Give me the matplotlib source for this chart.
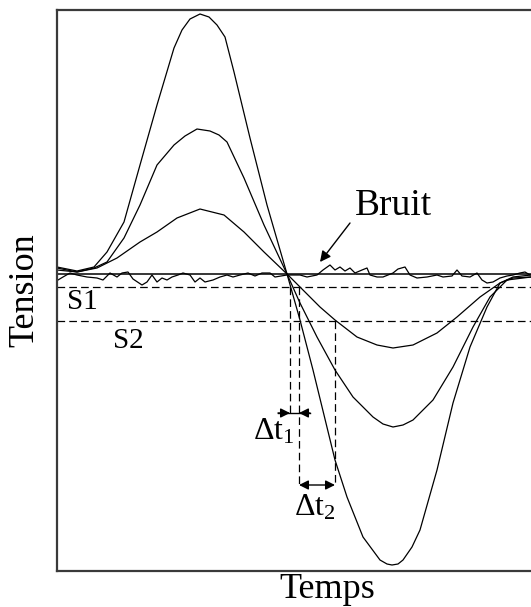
import matplotlib
matplotlib.use('Agg')
import matplotlib.pyplot as plt

plt.rcParams['font.family'] = ['Liberation Serif', 'DejaVu Serif']
plt.rcParams['mathtext.fontset'] = 'custom'
plt.rcParams['mathtext.rm'] = 'Liberation Serif'
plt.rcParams['mathtext.it'] = 'Liberation Serif'
plt.rcParams['lines.scale_dashes'] = False

# three pulses (time, tension)
t_big = [0, 20, 37, 50, 67, 83, 100, 117, 125, 133, 143, 152, 160, 168, 177, 193, 210, 230,
         243, 256, 278, 290, 306, 323, 330, 335, 341, 346, 355, 363, 380, 396, 413, 430,
         443, 456, 474]
v_big = [7, 3, 7, 22, 52, 109, 169, 226, 244, 255, 260, 257, 249, 237, 202, 136, 69, 0,
         -46, -96, -186, -223, -263, -286, -290, -291, -290, -286, -273, -256, -196, -129,
         -73, -33, -9, -4, -3]

t_mid = [0, 20, 37, 50, 67, 83, 100, 117, 128, 140, 153, 162, 170, 187, 207, 230,
         243, 260, 278, 296, 316, 326, 336, 346, 356, 376, 396, 416, 433, 450, 474]
v_mid = [6, 2, 6, 12, 36, 69, 109, 129, 138, 145, 143, 139, 132, 96, 49, 0,
         -29, -63, -96, -123, -143, -150, -153, -151, -146, -126, -93, -53, -23, -6, -3]

t_small = [0, 20, 40, 60, 83, 100, 120, 143, 167, 187, 207, 230,
           243, 263, 278, 300, 320, 336, 356, 380, 400, 423, 443, 456, 474]
v_small = [4, 2, 6, 16, 32, 42, 56, 65, 59, 42, 22, 0,
           -13, -33, -46, -63, -71, -74, -71, -59, -43, -23, -9, -3, -1]

# noise trace ("Bruit")
t_noise = [1, 6, 13, 20, 30, 40, 46, 53, 60, 65,
           71, 76, 85, 90, 95, 100, 105, 110, 115, 121,
           126, 133, 138, 143, 148, 156, 163, 170, 176, 183,
           191, 198, 205, 213, 218, 230, 243, 250, 260, 266,
           273, 278, 283, 288, 293, 298, 305, 310, 313, 320,
           326, 336, 341, 348, 353, 360, 370, 380, 386, 395,
           400, 405, 413, 420, 425, 430, 436, 443, 450, 456,
           463, 468, 473]
v_noise = [-6, -3, 1, -1, -3, -4, -6, 1, -3, 1,
           2, -5, -11, -8, -1, -8, -4, -6, -3, -1,
           1, -1, -8, -4, -8, -6, -3, -1, -3, -1,
           1, -2, 1, 1, -3, -1, -1, -3, -1, 4,
           9, 4, 7, 3, 6, 1, 4, 6, -1, -3,
           -3, 1, 5, 7, -1, -4, -3, -1, -3, -2,
           4, -2, -3, 1, -6, -9, -8, -4, -2, -1,
           1, 2, -1]

# thresholds and crossing times
S1 = -13
S2 = -47
t_s1_big, t_s1_small = 233, 242
t_s2_big, t_s2_small = 242, 278
y_dt1 = -139
y_dt2 = -211

fig = plt.figure(figsize=(5.31, 6.07), dpi=100)
ax = fig.add_axes([57/531, 36/607, 543/531, 561/607])
ax.set_xlim(0, 543)
ax.set_ylim(-297, 264)

ax.spines['right'].set_visible(False)
for s in ['left', 'top', 'bottom']:
    ax.spines[s].set_linewidth(1.6)
    ax.spines[s].set_color('#3a3a3a')
ax.set_xticks([])
ax.set_yticks([])

dash = (0, (5.5, 3))
ax.axhline(0, color='black', lw=1.1)
ax.axhline(S1, color='black', lw=0.9, ls=dash)
ax.axhline(S2, color='black', lw=0.9, ls=dash)

ax.plot(t_noise, v_noise, color='black', lw=0.9)
ax.plot(t_big, v_big, color='black', lw=0.9)
ax.plot(t_mid, v_mid, color='black', lw=0.9)
ax.plot(t_small, v_small, color='black', lw=0.9)

ax.plot([t_s1_big, t_s1_big], [S1, y_dt1], color='black', lw=0.9, ls=dash)
ax.plot([t_s1_small, t_s1_small], [S1, y_dt2], color='black', lw=0.9, ls=dash)
ax.plot([t_s2_small, t_s2_small], [S2, y_dt2], color='black', lw=0.9, ls=dash)

# delta t1: arrows pointing inward
ax.plot([t_s1_big - 12, t_s1_small + 11], [y_dt1, y_dt1], color='black', lw=1)
head = dict(arrowstyle='-|>', color='black', lw=1, mutation_scale=14,
            shrinkA=0, shrinkB=0)
ax.annotate('', xy=(t_s1_big, y_dt1), xytext=(t_s1_big - 12, y_dt1), arrowprops=head)
ax.annotate('', xy=(t_s1_small, y_dt1), xytext=(t_s1_small + 11, y_dt1), arrowprops=head)

# delta t2: arrows pointing outward
ax.annotate('', xy=(t_s2_big, y_dt2), xytext=(t_s2_small, y_dt2),
            arrowprops=dict(arrowstyle='<|-|>', color='black', lw=1,
                            mutation_scale=14, shrinkA=0, shrinkB=0))

ax.text(217, -158, r'$\Delta$t$_1$', fontsize=23, ha='center', va='center')
ax.text(258, -234, r'$\Delta$t$_2$', fontsize=23, ha='center', va='center')
ax.text(10, -28, 'S1', fontsize=21, ha='left', va='center')
ax.text(56, -67, 'S2', fontsize=21, ha='left', va='center')

ax.text(336, 68, 'Bruit', fontsize=27, ha='center', va='center')
ax.annotate('', xy=(263, 12), xytext=(293, 51),
            arrowprops=dict(arrowstyle='-|>', color='black', lw=1,
                            mutation_scale=16, shrinkA=0, shrinkB=0))

fig.text(25/531, 1 - 290/607, 'Tension', rotation=90, fontsize=26,
         ha='center', va='center')
fig.text(327/531, 1 - 589/607, 'Temps', fontsize=26, ha='center', va='center')

fig.savefig('out.png', dpi=100)
